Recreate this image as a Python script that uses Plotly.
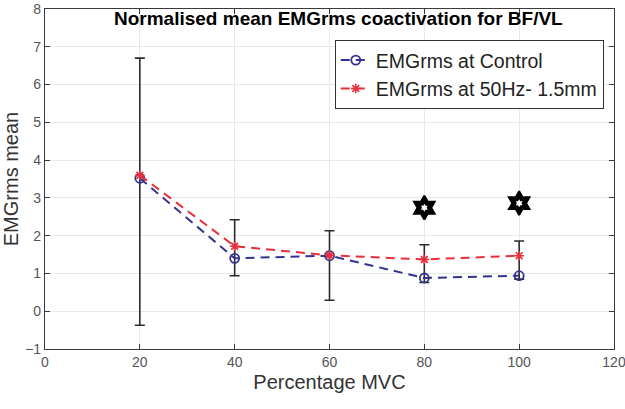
import plotly.graph_objects as go

mvc = [20, 40, 60, 80, 100]
control = [3.52, 1.40, 1.47, 0.88, 0.94]
hz50 = [3.60, 1.72, 1.48, 1.37, 1.47]
err_top = [6.70, 2.42, 2.13, 1.76, 1.86]
err_bottom = [-0.37, 0.94, 0.29, 0.76, 0.85]
sig_x = [80, 100]
sig_y = [2.74, 2.86]
x_ticks = [0, 20, 40, 60, 80, 100, 120]
y_ticks = [-1, 0, 1, 2, 3, 4, 5, 6, 7, 8]

BLUE = "#33338f"
RED = "#e8303c"
FONT = "Liberation Sans, Arial, sans-serif"

fig = go.Figure()

# error bars (centred on 50 Hz series)
fig.add_trace(go.Scatter(
    x=mvc, y=hz50, mode="markers",
    marker=dict(size=0.1, color="rgba(0,0,0,0)"),
    error_y=dict(type="data", symmetric=False,
                 array=[t - c for t, c in zip(err_top, hz50)],
                 arrayminus=[c - b for c, b in zip(hz50, err_bottom)],
                 color="#2b2b2b", thickness=1.6, width=5),
    showlegend=False, hoverinfo="skip"))

fig.add_trace(go.Scatter(
    x=mvc, y=control, mode="lines+markers", name="EMGrms at Control",
    line=dict(color=BLUE, width=2, dash="9px,6px"),
    marker=dict(symbol="circle-open", size=9, color=BLUE, line=dict(width=1.8))))

fig.add_trace(go.Scatter(
    x=mvc, y=hz50, mode="lines+markers", name="EMGrms at 50Hz- 1.5mm",
    line=dict(color=RED, width=2, dash="9px,6px"),
    marker=dict(symbol="asterisk-open", size=8, color=RED, line=dict(width=1.6, color=RED))))

# significance stars
fig.add_trace(go.Scatter(
    x=sig_x, y=sig_y, mode="markers",
    marker=dict(symbol="hexagram", size=18, color="black", line=dict(width=2, color="black")),
    showlegend=False, hoverinfo="skip"))
fig.add_trace(go.Scatter(
    x=sig_x, y=sig_y, mode="markers",
    marker=dict(symbol="hexagram", size=6, color="white"),
    showlegend=False, hoverinfo="skip"))

axis_common = dict(
    showgrid=True, gridcolor="#e8e8e8", gridwidth=1,
    zeroline=False, showline=True, linecolor="#3a3a3a", linewidth=1.2,
    mirror="ticks", ticks="inside", ticklen=5, tickcolor="#3a3a3a",
    tickfont=dict(family=FONT, size=14, color="#555555"),
    automargin=False, ticklabeloverflow="allow",
)

fig.update_layout(
    width=625, height=409,
    margin=dict(l=45, r=11, t=9, b=60),
    paper_bgcolor="white", plot_bgcolor="white",
    font=dict(family=FONT),
    xaxis=dict(range=[0, 120], tickvals=x_ticks,
               title=dict(text="Percentage MVC", font=dict(family=FONT, size=20, color="#333333"),
                          standoff=6),
               **axis_common),
    yaxis=dict(range=[-1, 8], tickvals=y_ticks,
               title=dict(text="EMGrms mean", font=dict(family=FONT, size=20, color="#333333"),
                          standoff=4),
               **axis_common),
    legend=dict(x=0.982, y=0.909, xanchor="right", yanchor="top",
                bgcolor="white", bordercolor="#333333", borderwidth=1,
                font=dict(family=FONT, size=19.5, color="#222222"),
                itemwidth=30, tracegroupgap=0),
    annotations=[dict(
        text="<b>Normalised mean EMGrms coactivation for BF/VL</b>",
        x=0.515, y=0.973, xref="paper", yref="paper",
        showarrow=False, font=dict(family=FONT, size=19, color="black"),
        xanchor="center", yanchor="middle")],
)

fig.write_html("out.html", config={"displayModeBar": False},
               post_script="document.body.style.margin='0';")
